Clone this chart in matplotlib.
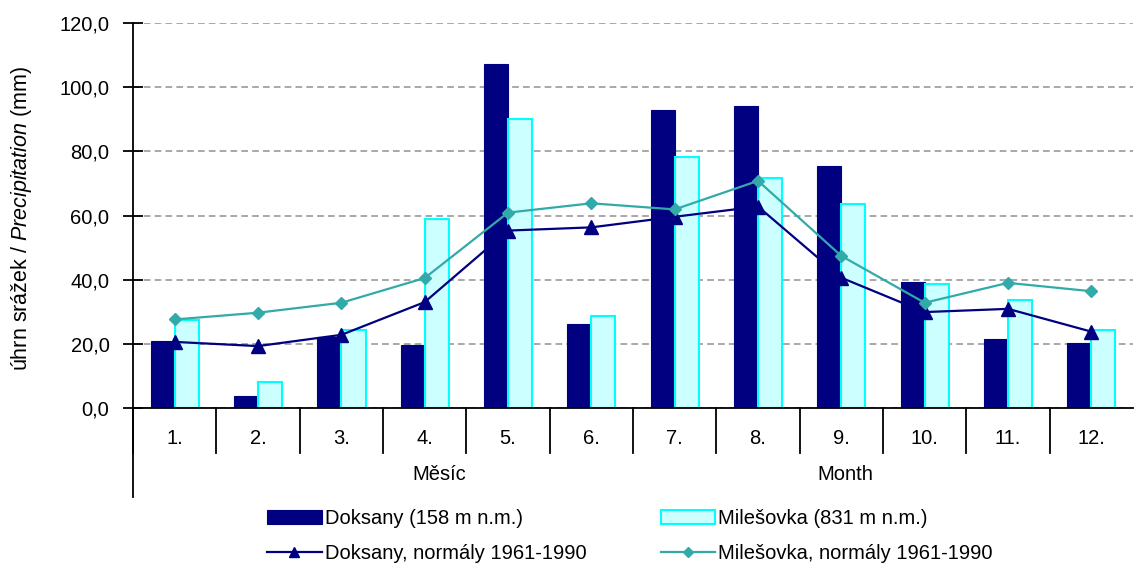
import numpy as np
import matplotlib.pyplot as plt
from matplotlib.ticker import FuncFormatter

plt.rcParams['font.family'] = ['Liberation Sans', 'DejaVu Sans']
plt.rcParams['mathtext.fontset'] = 'custom'
plt.rcParams['mathtext.it'] = 'Liberation Sans:italic'
plt.rcParams['mathtext.rm'] = 'Liberation Sans'

mesice = ['1.', '2.', '3.', '4.', '5.', '6.', '7.', '8.', '9.', '10.', '11.', '12.']
doksany = [20.8, 3.7, 22.0, 19.6, 107.2, 26.3, 92.9, 94.1, 75.4, 39.4, 21.4, 20.2]
milesovka = [27.3, 8.0, 24.3, 59.0, 90.2, 28.7, 78.3, 71.6, 63.5, 38.6, 33.7, 24.3]
doksany_norm = [20.6, 19.3, 22.8, 33.0, 55.3, 56.3, 59.6, 62.8, 40.6, 29.9, 30.9, 23.8]
milesovka_norm = [27.6, 29.7, 32.8, 40.5, 60.9, 63.8, 61.9, 70.8, 47.4, 32.8, 39.0, 36.4]

navy = '#000080'
teal = '#33AAAA'
fs = 14.5

fig = plt.figure(figsize=(11.38, 5.65), dpi=100)
ax = fig.add_axes([133/1138, 1 - 408/565, 1000/1138, 385/565])

x = np.arange(len(mesice))
w = 0.29
b1 = ax.bar(x - w/2, doksany, w, color=navy, edgecolor=navy, linewidth=0.8, zorder=2)
b2 = ax.bar(x + w/2, milesovka, w, color='#CCFFFF', edgecolor='#00FFFF', linewidth=1.5, zorder=2)
l1, = ax.plot(x, doksany_norm, color=navy, lw=1.6, marker='^', ms=10, zorder=3)
l2, = ax.plot(x, milesovka_norm, color=teal, lw=1.6, marker='D', ms=6.5, zorder=4)

ax.set_xlim(-0.5, 11.5)
ax.set_ylim(0, 120)
ax.set_yticks(np.arange(0, 121, 20))
ax.yaxis.set_major_formatter(FuncFormatter(lambda v, p: f'{v:.1f}'.replace('.', ',')))
ax.yaxis.grid(True, color='#999999', linestyle=(0, (4, 2.5)), lw=1.2, zorder=0)
ax.set_axisbelow(True)

for s in ['top', 'right']:
    ax.spines[s].set_visible(False)
ax.spines['left'].set_linewidth(1.3)
ax.spines['bottom'].set_linewidth(1.3)
ax.tick_params(axis='y', direction='inout', length=14, width=1.3, labelsize=fs, pad=10)
ax.set_xticks(x)
ax.set_xticklabels(mesice)
ax.tick_params(axis='x', length=0, labelsize=fs, pad=15)

# oddelovace kategorii a prodlouzena osa y
for i in range(len(mesice)):
    ax.plot([i - 0.5, i - 0.5], [0, -0.117], color='black', lw=1.3,
            transform=ax.get_xaxis_transform(), clip_on=False)
ax.plot([-0.5, -0.5], [0, -0.231], color='black', lw=1.3,
        transform=ax.get_xaxis_transform(), clip_on=False)

ax.text(0.306, -0.174, 'Měsíc', transform=ax.transAxes, ha='center', va='center', fontsize=fs)
ax.text(0.712, -0.174, 'Month', transform=ax.transAxes, ha='center', va='center', fontsize=fs)

fig.text(22/1138, 1 - 218/565, r'úhrn srážek / $\mathit{Precipitation}$ (mm)', rotation=90,
         ha='center', va='center', fontsize=15.5)

fig.legend([b1, l1, b2, l2],
           ['Doksany (158 m n.m.)', 'Doksany, normály 1961-1990',
            'Milešovka (831 m n.m.)', 'Milešovka, normály 1961-1990'],
           ncol=2, loc='center', bbox_to_anchor=(630/1138, 1 - 536/565), frameon=False,
           fontsize=fs, handlelength=2.7, handletextpad=0.15, columnspacing=3.7,
           labelspacing=0.8, borderpad=0, markerscale=0.75)

fig.savefig('out.png', dpi=100)
